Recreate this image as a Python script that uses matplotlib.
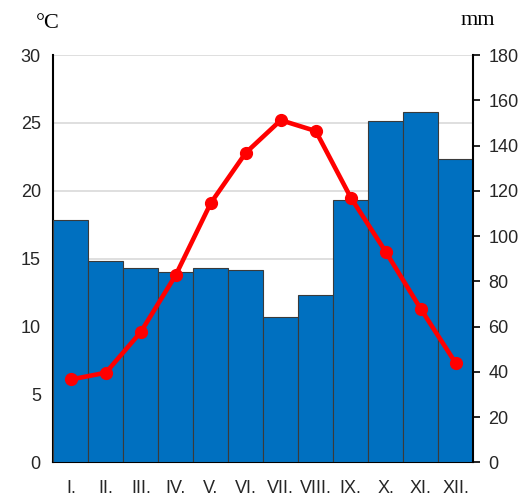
import matplotlib.pyplot as plt

months = ['I.', 'II.', 'III.', 'IV.', 'V.', 'VI.', 'VII.', 'VIII.', 'IX.', 'X.', 'XI.', 'XII.']
# 月平均气温（°C）
temperature = [6.1, 6.6, 9.6, 13.8, 19.1, 22.8, 25.2, 24.4, 19.5, 15.5, 11.3, 7.3]
# 月降水量（mm）
precipitation = [107, 89, 86, 84, 86, 85, 64, 74, 116, 151, 155, 134]

temp_ticks = [0, 5, 10, 15, 20, 25, 30]
prec_ticks = [0, 20, 40, 60, 80, 100, 120, 140, 160, 180]

tick_font = 'Liberation Sans'
unit_font = 'Liberation Serif'
label_color = '#262626'

fig = plt.figure(figsize=(5.27, 4.97), dpi=100)
ax = fig.add_axes([0.1012, 0.0698, 0.7968, 0.8195])
x = list(range(1, len(months) + 1))

# 温度轴（左侧，含网格）
ax.set_ylim(temp_ticks[0], temp_ticks[-1])
ax.set_xlim(0.5, len(months) + 0.5)
ax.set_yticks(temp_ticks)
ax.yaxis.grid(True, color='#d9d9d9', linewidth=1.2)
ax.set_axisbelow(True)
ax.tick_params(axis='y', length=0, pad=9, labelsize=13, labelcolor=label_color)
ax.set_xticks(x)
ax.set_xticklabels(months)
ax.tick_params(axis='x', length=0, pad=13, labelsize=13, labelcolor=label_color)
for lab in ax.get_xticklabels() + ax.get_yticklabels():
    lab.set_family(tick_font)
for s in ['top', 'right']:
    ax.spines[s].set_visible(False)
for s in ['left', 'bottom']:
    ax.spines[s].set_linewidth(1.5)
    ax.spines[s].set_color('black')

# 降水柱（右侧）
ax2 = ax.twinx()
ax2.bar(x, precipitation, width=1.0, color='#0070C0', edgecolor='#3a3a3a', linewidth=0.8)
ax2.set_ylim(prec_ticks[0], prec_ticks[-1])
ax2.set_yticks(prec_ticks)
ax2.tick_params(axis='y', length=5, width=1.2, pad=6, labelsize=13, labelcolor=label_color)
for lab in ax2.get_yticklabels():
    lab.set_family(tick_font)
for s in ['top', 'left', 'bottom']:
    ax2.spines[s].set_visible(False)
ax2.spines['right'].set_linewidth(1.5)

# 温度折线（置于最上层）
ax3 = ax.twinx()
ax3.plot(x, temperature, color='#ff0000', linewidth=3.3, marker='o', markersize=8.5, clip_on=False)
ax3.set_ylim(temp_ticks[0], temp_ticks[-1])
ax3.axis('off')

fig.text(0.091, 0.953, '°C', family=unit_font, fontsize=16, ha='center', va='center')
fig.text(0.907, 0.958, 'mm', family=unit_font, fontsize=16, ha='center', va='center')

fig.savefig('out.png', dpi=100)
